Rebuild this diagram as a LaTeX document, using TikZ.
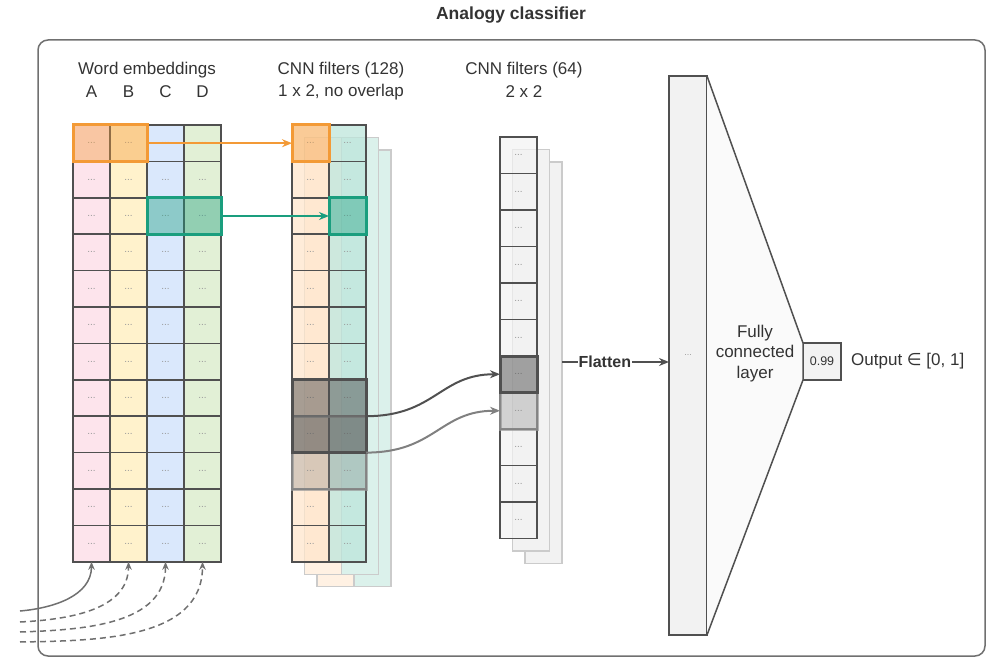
\documentclass[tikz,border=0pt]{standalone}
\usepackage{fontspec}
\setmainfont{Liberation Sans}
\newfontfamily\dejavu{DejaVu Sans}
\usetikzlibrary{arrows.meta}
\definecolor{pinkc}{HTML}{FDE4EC}
\definecolor{yelc}{HTML}{FFF2CC}
\definecolor{bluec}{HTML}{DAE8FC}
\definecolor{grnc}{HTML}{E2F0D6}
\definecolor{orac}{HTML}{FFE6CC}
\definecolor{teac}{HTML}{BDE5DB}
\definecolor{orgc}{HTML}{F39A36}
\definecolor{tealc}{HTML}{1A9E7E}
\definecolor{gridc}{HTML}{505050}
\definecolor{txtc}{HTML}{333333}
\definecolor{dotc}{HTML}{9A9A9A}
\definecolor{framec}{HTML}{707070}
\definecolor{lgc}{HTML}{F2F2F2}
\begin{document}
\begin{tikzpicture}[x=1pt,y=-1pt,
  cell/.style={draw=gridc, line width=1.6pt, minimum width=37pt, minimum height=36.4pt,
    inner sep=0pt, outer sep=0pt, anchor=north west, font=\fontsize{10}{10}\selectfont, text=dotc},
  fcell/.style={cell, fill opacity=0.75, text opacity=1},
  gcell/.style={cell, minimum height=36.5pt, fill=lgc, fill opacity=0.7, text opacity=1},
  lbl/.style={font=\fontsize{17}{20.5}\selectfont, text=txtc, inner sep=0pt},
  tip/.style={-{Stealth[length=10pt,width=8pt]}},
  smalltip/.style={-{Stealth[length=8pt,width=6.5pt]}},
  backlayer/.style={draw=gridc!30, line width=1.2pt,
    inner sep=0pt, outer sep=0pt, anchor=north west},
  hlorange/.style={draw=orgc, line width=3pt, fill=orgc, fill opacity=0.4, inner sep=0pt, outer sep=0pt},
  hlteal/.style={draw=tealc, line width=3pt, fill=tealc, fill opacity=0.4, inner sep=0pt, outer sep=0pt},
  hldark/.style={draw=gridc, line width=3pt, fill=gridc, fill opacity=0.5, inner sep=0pt, outer sep=0pt},
  hllight/.style={draw=gray!80, draw opacity=0.7, line width=3pt, fill=gray, fill opacity=0.3, inner sep=0pt, outer sep=0pt},
]
\useasboundingbox (0,0) rectangle (994,658);

% frame and title
\draw[framec, line width=1.5pt, rounded corners=10pt] (38,40) rectangle (985,656);
\node[lbl, font=\fontsize{17.5}{20}\selectfont\bfseries] (title) at (511,15) {Analogy classifier};

% labels
\node[lbl] (lwe) at (147,70) {Word embeddings};
\node[lbl] (lA) at (91.5,92) {A};
\node[lbl] (lB) at (128.5,92) {B};
\node[lbl] (lC) at (165.5,92) {C};
\node[lbl] (lD) at (202.5,92) {D};
\node[lbl] (l128) at (341,70) {CNN filters (128)};
\node[lbl] (l128b) at (341,92) {1 x 2, no overlap};
\node[lbl] (l64) at (524,70) {CNN filters (64)};
\node[lbl] (l64b) at (524,92) {2 x 2};

% word embeddings grid
\foreach \c/\col in {1/pinkc,2/yelc,3/bluec,4/grnc} {
  \foreach \r in {1,...,12} {
    \node[cell, fill=\col] (w-\c-\r) at ({73+(\c-1)*37},{125+(\r-1)*36.4}) {...};
  }
}

% CNN filters 128: back layers
\foreach \k in {2,1} {
  \node[backlayer, fill=orac!55, minimum width=37pt, minimum height=436.8pt] (b\k-1) at ({292+12.5*\k},{125+12.5*\k}) {};
  \node[backlayer, fill=teac!55, minimum width=37pt, minimum height=436.8pt] (b\k-2) at ({329+12.5*\k},{125+12.5*\k}) {};
}
% front grid
\foreach \c/\col in {1/orac,2/teac} {
  \foreach \r in {1,...,12} {
    \node[fcell, fill=\col] (f-\c-\r) at ({292+(\c-1)*37},{125+(\r-1)*36.4}) {...};
  }
}

% CNN filters 64
\foreach \k in {2,1} {
  \node[backlayer, fill=lgc, minimum width=37pt, minimum height=401.5pt] (gb\k) at ({500+12.5*\k},{137+12.5*\k}) {};
}
\foreach \r in {1,...,11} {
  \node[gcell] (g-\r) at (500,{137+(\r-1)*36.5}) {...};
}

% highlights
\node[hlorange, minimum width=74pt, minimum height=36.4pt] (oh1) at (w-1-1.east) {};
\node[hlteal, minimum width=74pt, minimum height=36.4pt] (gh1) at (w-3-3.east) {};
\node[hlorange, minimum width=37pt, minimum height=36.4pt] (oh2) at (f-1-1) {};
\node[hlteal, minimum width=37pt, minimum height=36.4pt] (gh2) at (f-2-3) {};
\node[hllight, minimum width=74pt, minimum height=72.8pt] (lt) at (f-1-9.south east) {};
\node[hldark, minimum width=74pt, minimum height=72.8pt] (dk) at (f-1-8.south east) {};
\node[hllight, minimum width=37pt, minimum height=36.5pt] (gl) at (g-8) {};
\node[hldark, minimum width=37pt, minimum height=36.5pt] (gd) at (g-7) {};

% arrows between layers
\draw[orgc, line width=2pt, tip] (oh1.east) -- (oh2.west);
\draw[tealc, line width=2pt, tip] (gh1.east) -- (gh2.west);
\draw[gray, line width=2pt, tip] (lt.east) .. controls (435,452.6) and (440,410.75) .. (gl.west);
\draw[gridc, line width=2pt, tip] (dk.east) .. controls (435,416.2) and (440,374.25) .. (gd.west);

% fully connected part
\node[draw=gridc, line width=1.5pt, fill=lgc, minimum width=38pt, minimum height=559pt,
  inner sep=0pt, outer sep=0pt, font=\fontsize{9}{9}\selectfont, text=dotc] (fc) at (688,355.5) {...};
\node[draw=gridc, line width=1.5pt, fill=lgc, minimum width=38pt, minimum height=37pt,
  inner sep=0pt, outer sep=0pt, font=\fontsize{12.5}{14}\selectfont, text=txtc] (out) at (822,361.5) {0.99};
\filldraw[draw=gridc, fill=black!2, line width=1.5pt, line join=round]
  (fc.north east) -- (out.north west) -- (out.south west) -- (fc.south east);
\node[lbl, align=center] (fcl) at (755,353.5) {Fully\\connected\\layer};
\node[lbl, anchor=west] (outl) at (851,361.5) {Output {\dejavu ∈} [0, 1]};

% flatten
\coordinate (flatS) at (562,362);
\draw[gridc, line width=2pt, tip] (flatS) -- node[pos=0.4, fill=white, inner sep=1pt,
  font=\fontsize{16}{18}\selectfont\bfseries, text=txtc] (flt) {Flatten} (flatS -| fc.west);

% input arrows
\coordinate (s1) at (20,611);
\coordinate (s2) at (20,622);
\coordinate (s3) at (20,632);
\coordinate (s4) at (20,642);
\draw[framec, line width=1.5pt, smalltip] (s1) to[out=5,in=-90] (w-1-12.south);
\draw[framec, line width=1.5pt, dash pattern=on 6pt off 4pt, smalltip] (s2) to[out=3,in=-90] (w-2-12.south);
\draw[framec, line width=1.5pt, dash pattern=on 6pt off 4pt, smalltip] (s3) to[out=2,in=-90] (w-3-12.south);
\draw[framec, line width=1.5pt, dash pattern=on 6pt off 4pt, smalltip] (s4) to[out=1,in=-90] (w-4-12.south);
\end{tikzpicture}
\end{document}
